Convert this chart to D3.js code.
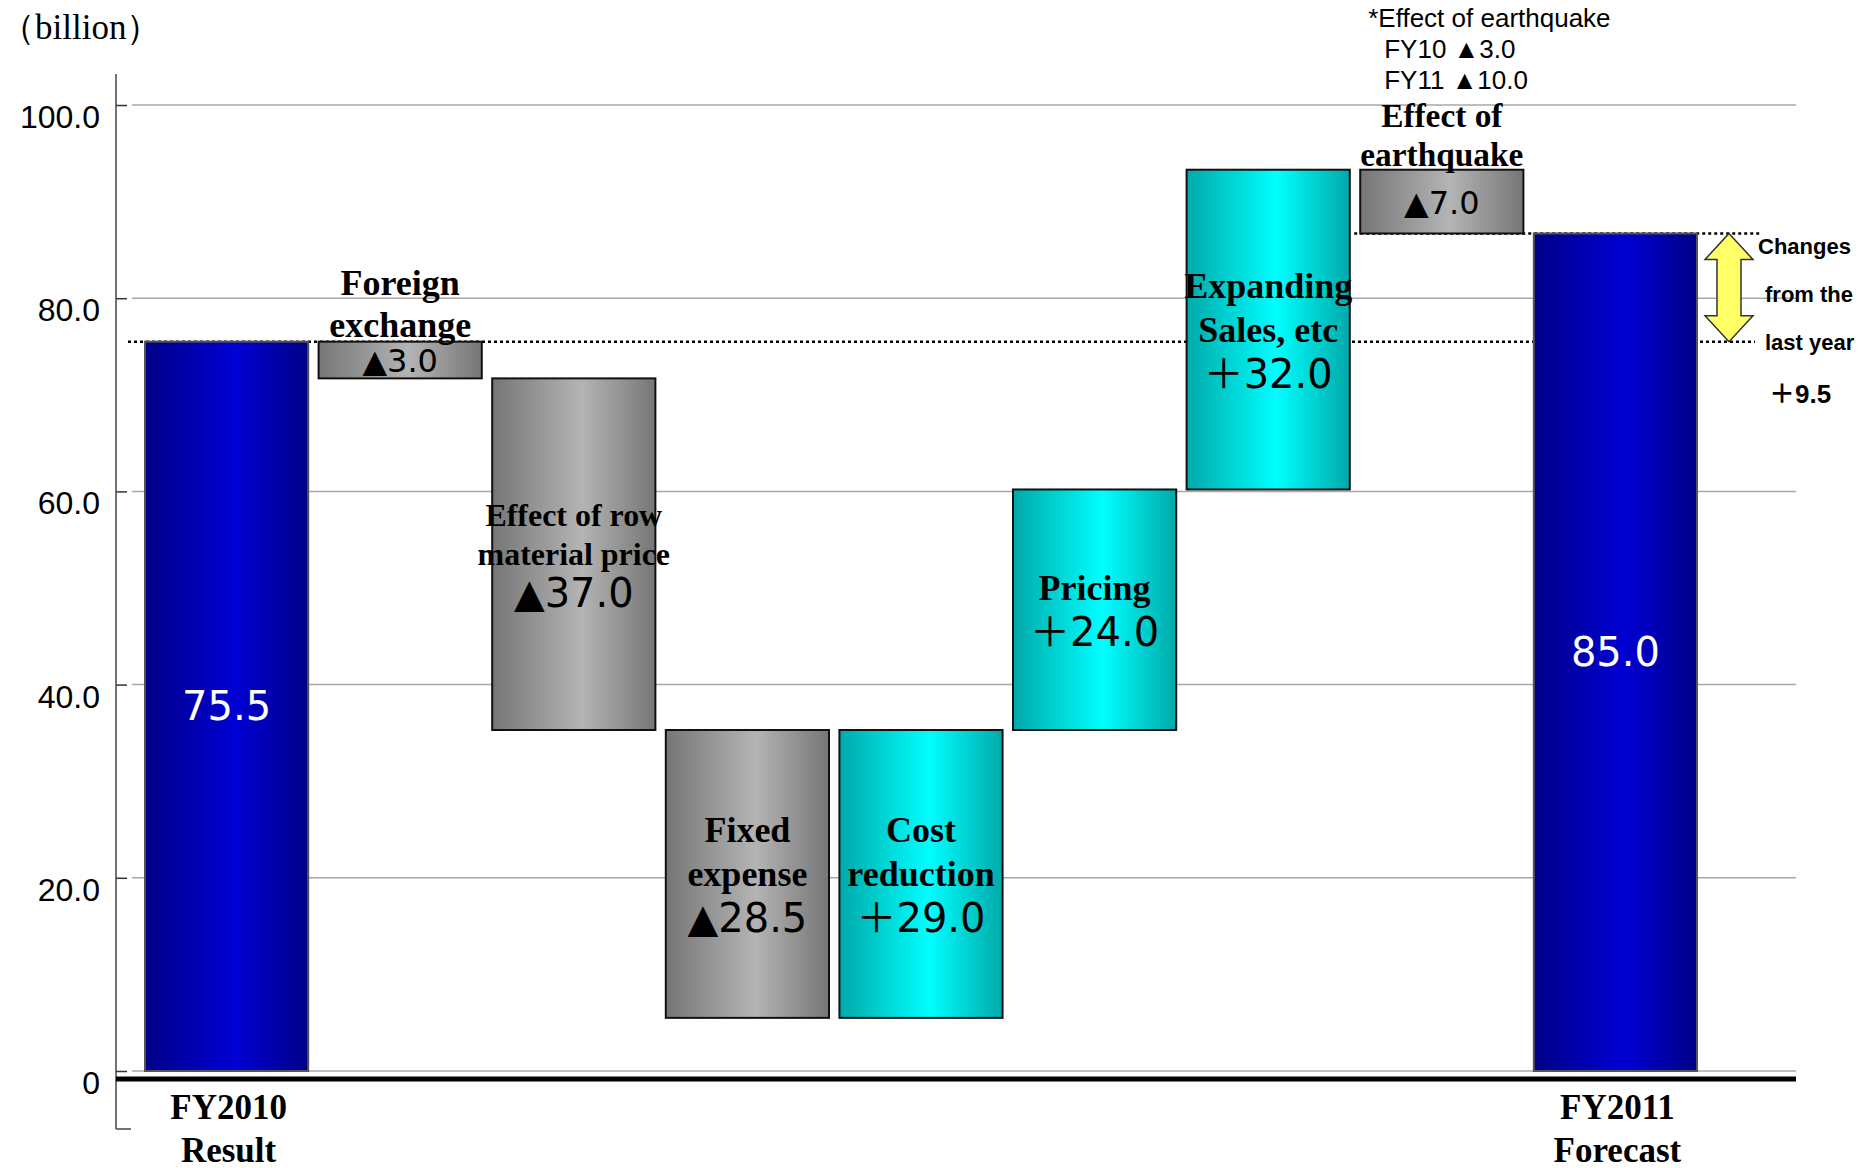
<!DOCTYPE html>
<html>
<head>
<meta charset="utf-8">
<script src="https://cdn.jsdelivr.net/npm/d3@7"></script>
<style>
body { margin: 0; background: #fff; }
</style>
</head>
<body>
<div id="chart"></div>
<script>
// waterfall of operating profit, FY2010 result -> FY2011 forecast (billion)
const categories = ["FY2010", "Foreign exchange", "Raw material", "Fixed expense", "Cost reduction", "Pricing", "Expanding sales", "Earthquake", "FY2011"];
const barBottom = [0, 71.7, 35.3, 5.5, 5.5, 35.3, 60.2, 86.7, 0];
const barTop = [75.5, 75.5, 71.7, 35.3, 35.3, 60.2, 93.3, 93.3, 86.7];
const barKind = ["total", "down", "down", "down", "up", "up", "up", "down", "total"];
const nameLines = [[], ["Foreign", "exchange"], ["Effect of row", "material price"], ["Fixed", "expense"], ["Cost", "reduction"], ["Pricing"], ["Expanding", "Sales, etc"], ["Effect of", "earthquake"], []];
const valueLabels = ["75.5", "▲3.0", "▲37.0", "▲28.5", "＋29.0", "＋24.0", "＋32.0", "▲7.0", "85.0"];
const axisLabels = [["FY2010", "Result"], [], [], [], [], [], [], [], ["FY2011", "Forecast"]];
const yTicks = [0, 20, 40, 60, 80, 100];
const unitLabel = "（billion）";
const noteLines = ["*Effect of earthquake", "FY10 ▲3.0", "FY11 ▲10.0"];
const changeLines = ["Changes", "from the", "last year"];
const changeValue = "＋9.5";

const width = 1874;
const height = 1168;
const axisX = 116;
const plotRight = 1796;
const serif = "'Liberation Serif', 'Times New Roman', serif";
const sans = "'DejaVu Sans', 'Noto Sans CJK JP', sans-serif";
const arial = "'Liberation Sans', Arial, 'Noto Sans CJK JP', sans-serif";

var svg = d3.select("#chart")
  .append("svg")
    .attr("width", width)
    .attr("height", height);

var x = d3.scaleBand()
  .domain(categories)
  .range([145, 1697])
  .paddingInner(0.06)
  .paddingOuter(0);
var y = d3.scaleLinear([0, 100], [1071, 105]);
var bw = x.bandwidth();

// gradients for the bars
var defs = svg.append("defs");
function addGradient(id, edge, mid) {
  var g = defs.append("linearGradient")
    .attr("id", id)
    .attr("x1", "0%").attr("x2", "100%")
    .attr("y1", "0%").attr("y2", "0%");
  g.append("stop").attr("offset", "0%").attr("stop-color", edge);
  g.append("stop").attr("offset", "55%").attr("stop-color", mid);
  g.append("stop").attr("offset", "100%").attr("stop-color", edge);
}
addGradient("grad_total", "#000088", "#0000d4");
addGradient("grad_down", "#767676", "#b4b4b4");
addGradient("grad_up", "#00a9a9", "#00ffff");

// grid lines
svg.append("g")
  .selectAll("line")
  .data(yTicks)
  .join("line")
    .attr("x1", axisX + 16)
    .attr("x2", plotRight)
    .attr("y1", d => y(d))
    .attr("y2", d => y(d))
    .attr("stroke", "#a8a8a8")
    .attr("stroke-width", 1.5);

// y axis
var yAxis = svg.append("g")
  .attr("transform", `translate(${axisX},0)`)
  .call(d3.axisLeft(y)
    .tickValues(yTicks)
    .tickSizeInner(-11)
    .tickSizeOuter(0)
    .tickPadding(16)
    .tickFormat(d => d === 0 ? "0" : d.toFixed(1)));
yAxis.select(".domain").remove();
yAxis.selectAll(".tick line")
  .attr("stroke", "#333")
  .attr("stroke-width", 1.5);
yAxis.selectAll(".tick text")
  .attr("font-family", arial)
  .attr("font-size", 32)
  .attr("fill", "#000")
  .attr("dy", "0.7em");

svg.append("line")
  .attr("x1", axisX).attr("x2", axisX)
  .attr("y1", y(100) - 31).attr("y2", y(0) + 58)
  .attr("stroke", "#444").attr("stroke-width", 1.5);
svg.append("line")
  .attr("x1", axisX).attr("x2", axisX + 15)
  .attr("y1", y(0) + 58).attr("y2", y(0) + 58)
  .attr("stroke", "#444").attr("stroke-width", 1.5);

svg.append("text")
  .attr("x", 0)
  .attr("y", 27)
  .attr("dominant-baseline", "central")
  .attr("font-family", serif)
  .attr("font-size", 35)
  .text(unitLabel);

// dotted connector lines, behind the bars
var startLevel = barTop[0];
var endLevel = barTop[barTop.length - 1];
var lastX = x(categories[categories.length - 1]);
var arrowX = lastX + bw + 32;
svg.append("line")
  .attr("x1", axisX + 12).attr("x2", arrowX + 26)
  .attr("y1", y(startLevel)).attr("y2", y(startLevel))
  .attr("stroke", "#000").attr("stroke-width", 2.5)
  .attr("stroke-dasharray", "3,3");
svg.append("line")
  .attr("x1", x(categories[7]) - 6).attr("x2", arrowX + 33)
  .attr("y1", y(endLevel)).attr("y2", y(endLevel))
  .attr("stroke", "#000").attr("stroke-width", 2.5)
  .attr("stroke-dasharray", "3,3");

// bars
svg.append("g")
  .selectAll("rect")
  .data(categories)
  .join("rect")
    .attr("x", d => x(d))
    .attr("width", bw)
    .attr("y", (d, i) => y(barTop[i]))
    .attr("height", (d, i) => y(barBottom[i]) - y(barTop[i]))
    .attr("fill", (d, i) => `url(#grad_${barKind[i]})`)
    .attr("stroke", (d, i) => barKind[i] === "total" ? "#555" : "#111")
    .attr("stroke-width", 2);

// thick base line
svg.append("line")
  .attr("x1", axisX).attr("x2", plotRight)
  .attr("y1", y(0) + 8).attr("y2", y(0) + 8)
  .attr("stroke", "#000").attr("stroke-width", 5);

// labels
var labels = svg.append("g");
function fitText(t, maxW) {
  var w = t.node().getComputedTextLength();
  if (w > maxW) {
    var fs = +t.attr("font-size");
    t.attr("font-size", fs * maxW / w);
  }
  return +t.attr("font-size");
}

categories.forEach(function(c, i) {
  var cx = x(c) + bw / 2;
  var top = y(barTop[i]);
  var bottom = y(barBottom[i]);
  var mid = (top + bottom) / 2;

  if (barKind[i] === "total") {
    labels.append("text")
      .attr("x", cx).attr("y", mid)
      .attr("text-anchor", "middle")
      .attr("dominant-baseline", "central")
      .attr("font-family", sans)
      .attr("font-size", 40)
      .attr("fill", "#fff")
      .text(valueLabels[i]);
    axisLabels[i].forEach(function(t, j) {
      labels.append("text")
        .attr("x", cx + 2).attr("y", y(0) + 36 + j * 43)
        .attr("text-anchor", "middle")
        .attr("dominant-baseline", "central")
        .attr("font-family", serif)
        .attr("font-weight", "bold")
        .attr("font-size", 35)
        .text(t);
    });
    return;
  }

  var short = bottom - top < 80;
  if (short) {
    // name goes above a thin bar
    var n = nameLines[i].length;
    var nodes = nameLines[i].map(t => labels.append("text")
      .attr("x", cx)
      .attr("text-anchor", "middle")
      .attr("dominant-baseline", "central")
      .attr("font-family", serif)
      .attr("font-weight", "bold")
      .attr("font-size", 36)
      .text(t));
    var fs = d3.min(nodes.map(t => fitText(t, bw)));
    nodes.forEach(function(t, j) {
      t.attr("font-size", fs)
        .attr("y", top - fs * 0.45 - (n - 1 - j) * fs * 1.18);
    });
    labels.append("text")
      .attr("x", cx).attr("y", mid + 1)
      .attr("text-anchor", "middle")
      .attr("dominant-baseline", "central")
      .attr("font-family", sans)
      .attr("font-size", 32)
      .text(valueLabels[i]);
  } else {
    var nodes = nameLines[i].map(t => labels.append("text")
      .attr("x", cx)
      .attr("text-anchor", "middle")
      .attr("dominant-baseline", "central")
      .attr("font-family", serif)
      .attr("font-weight", "bold")
      .attr("font-size", 36)
      .text(t));
    var fs = d3.min(nodes.map(t => fitText(t, bw * 1.18)));
    nodes.forEach(t => t.attr("font-size", fs));
    var val = labels.append("text")
      .attr("x", cx)
      .attr("text-anchor", "middle")
      .attr("dominant-baseline", "central")
      .attr("font-family", sans)
      .attr("font-size", 40)
      .text(valueLabels[i]);
    var all = nodes.concat([val]);
    var lh = fs * 1.22;
    all.forEach(function(t, j) {
      t.attr("y", mid + (j - (all.length - 1) / 2) * lh);
    });
  }
});

// earthquake footnote at the top
noteLines.forEach(function(t, j) {
  svg.append("text")
    .attr("x", x(categories[7]) + (j === 0 ? 8 : 24))
    .attr("y", y(100) - 87 + j * 31)
    .attr("dominant-baseline", "central")
    .attr("font-family", arial)
    .attr("font-size", 26)
    .text(t);
});

// yellow double arrow showing the change from last year
var a1 = y(endLevel), a2 = y(startLevel);
var hw = 24, sw = 12, hh = 26;
var arrowPath = [
  [arrowX, a1], [arrowX + hw, a1 + hh], [arrowX + sw, a1 + hh], [arrowX + sw, a2 - hh],
  [arrowX + hw, a2 - hh], [arrowX, a2], [arrowX - hw, a2 - hh], [arrowX - sw, a2 - hh],
  [arrowX - sw, a1 + hh], [arrowX - hw, a1 + hh]
];
svg.append("path")
  .attr("d", d3.line()(arrowPath) + "Z")
  .attr("fill", "#ffff66")
  .attr("stroke", "#333")
  .attr("stroke-width", 1.5);

changeLines.forEach(function(t, j) {
  svg.append("text")
    .attr("x", arrowX + (j === 0 ? 29 : 36))
    .attr("y", a1 + 13 + j * 48)
    .attr("dominant-baseline", "central")
    .attr("font-family", arial)
    .attr("font-weight", "bold")
    .attr("font-size", 22)
    .text(t);
});
svg.append("text")
  .attr("x", arrowX + 40)
  .attr("y", a2 + 52)
  .attr("dominant-baseline", "central")
  .attr("font-family", arial)
  .attr("font-weight", "bold")
  .attr("font-size", 26)
  .text(changeValue);
</script>
</body>
</html>
